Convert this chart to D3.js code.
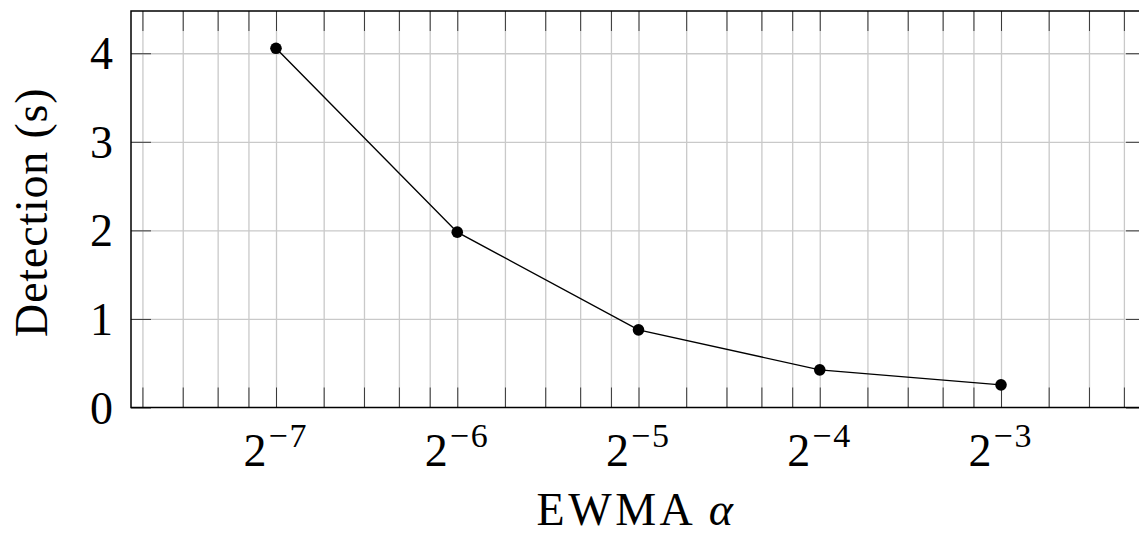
<!DOCTYPE html>
<html><head><meta charset="utf-8">
<script src="https://cdn.jsdelivr.net/npm/d3@7"></script>
<style>
body{margin:0;background:#fff}
svg{display:block}
text{font-family:"Liberation Serif","Times New Roman",serif;fill:#000}
</style>
</head><body>
<svg id="c" width="1139" height="536"></svg>
<script>
// ---- data ----
const exponents = [-7, -6, -5, -4, -3];          // alpha = 2^exponent
const detection = [4.056, 1.98, 0.877, 0.425, 0.256];
const minorMultipliers = [1.2, 1.4, 1.6, 1.8];
const minorDecades = [-8, -7, -6, -5, -4, -3];
const yTicks = [0, 1, 2, 3, 4];
const xTitle = "EWMA ";
const xTitleSymbol = "α";
const yTitle = "Detection (s)";

// ---- layout ----
const svg = d3.select("#c");
const L = 131, R = 1146, T = 11, B = 407.5;
const H = B - T;
const x = d3.scaleLog().base(2).domain([Math.pow(2, -7.8), Math.pow(2, -2.2)]).range([L, R]);
const y = d3.scaleLinear().domain([0, 4.477]).range([B, T]);

const majorVals = exponents.map(e => Math.pow(2, e));
const minorVals = [];
minorDecades.forEach(k => minorMultipliers.forEach(m => {
  const v = m * Math.pow(2, k);
  if (v > x.domain()[0] && v < x.domain()[1]) minorVals.push(v);
}));
const allX = majorVals.concat(minorVals);

const gridStyle = g => { g.select(".domain").remove(); g.selectAll("line").attr("stroke", "#c9c9c9").attr("stroke-width", 1.3); g.selectAll("text").remove(); };
const tickStyle = g => { g.select(".domain").remove(); g.selectAll("line").attr("stroke", "#3a3a3a").attr("stroke-width", 1); g.selectAll("text").remove(); };

// grid
svg.append("g").attr("transform", `translate(0,${B})`)
  .call(d3.axisBottom(x).tickValues(allX).tickSize(-H).tickFormat(""))
  .call(gridStyle);
svg.append("g").attr("transform", `translate(${L},0)`)
  .call(d3.axisLeft(y).tickValues(yTicks.slice(1)).tickSize(-(R - L)).tickFormat(""))
  .call(gridStyle);

// ticks (inward)
svg.append("g").attr("transform", `translate(0,${B})`)
  .call(d3.axisBottom(x).tickValues(allX).tickSize(-20).tickFormat("")).call(tickStyle);
svg.append("g").attr("transform", `translate(0,${T})`)
  .call(d3.axisTop(x).tickValues(allX).tickSize(-20).tickFormat("")).call(tickStyle);
svg.append("g").attr("transform", `translate(${L},0)`)
  .call(d3.axisLeft(y).tickValues(yTicks).tickSize(-20).tickFormat("")).call(tickStyle);
svg.append("g").attr("transform", `translate(${R},0)`)
  .call(d3.axisRight(y).tickValues(yTicks).tickSize(-20).tickFormat("")).call(tickStyle);

// frame
svg.append("rect").attr("x", L).attr("y", T).attr("width", R - L).attr("height", H)
  .attr("fill", "none").attr("stroke", "#000").attr("stroke-width", 1.5);

// data line + markers
const pts = exponents.map((e, i) => [Math.pow(2, e), detection[i]]);
svg.append("path").datum(pts)
  .attr("fill", "none").attr("stroke", "#000").attr("stroke-width", 1.4)
  .attr("d", d3.line().x(d => x(d[0])).y(d => y(d[1])));
svg.selectAll("circle.pt").data(pts).join("circle").attr("class", "pt")
  .attr("cx", d => x(d[0])).attr("cy", d => y(d[1])).attr("r", 5.8).attr("fill", "#000");

// x tick labels
exponents.forEach(e => {
  const t = svg.append("text").attr("x", x(Math.pow(2, e))).attr("y", 466).attr("text-anchor", "middle");
  t.append("tspan").attr("font-size", 46).text("2");
  t.append("tspan").attr("font-size", 34).attr("dy", -19).attr("dx", 2).attr("letter-spacing", 2).text("−" + Math.abs(e));
});

// y tick labels
yTicks.forEach(v => {
  svg.append("text").attr("x", 113).attr("y", y(v) + 16).attr("text-anchor", "end")
    .attr("font-size", 46).text(v);
});

// axis titles
const xt = svg.append("text").attr("x", (L + R) / 2 - 2).attr("y", 525).attr("text-anchor", "middle")
  .attr("font-size", 46).attr("letter-spacing", 3.5);
xt.append("tspan").text(xTitle);
xt.append("tspan").attr("font-style", "italic").text(xTitleSymbol);

svg.append("text").attr("transform", `translate(47,${(T + B) / 2 + 3}) rotate(-90)`)
  .attr("text-anchor", "middle").attr("font-size", 46).attr("letter-spacing", 0.8).text(yTitle);
</script>
</body></html>
